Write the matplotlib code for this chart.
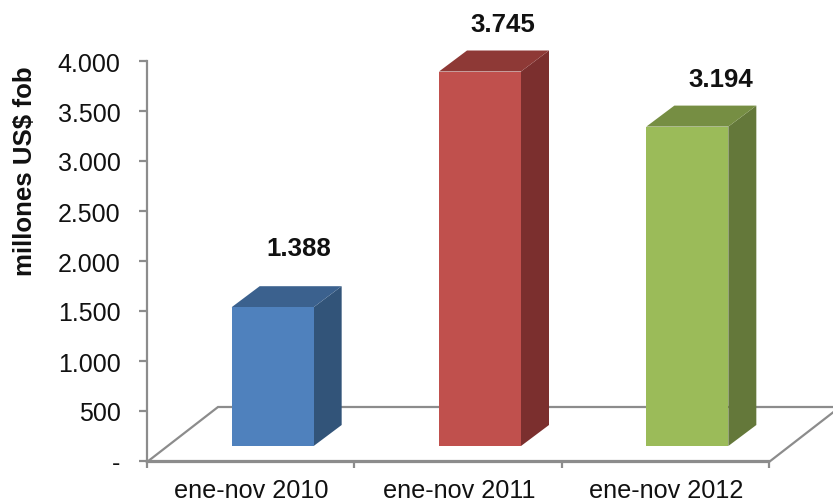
import matplotlib
matplotlib.use("Agg")
import matplotlib.pyplot as plt

plt.rcParams['font.family'] = ['Liberation Sans', 'DejaVu Sans']

categories = ['ene-nov 2010', 'ene-nov 2011', 'ene-nov 2012']
values = [1388, 3745, 3194]
value_labels = ['1.388', '3.745', '3.194']
y_ticks = [0, 500, 1000, 1500, 2000, 2500, 3000, 3500, 4000]
y_labels = ['-', '500', '1.000', '1.500', '2.000', '2.500', '3.000', '3.500', '4.000']

front_colors = ['#4f81bd', '#c0504d', '#9bbb59']
side_colors = ['#325479', '#7b2f2e', '#64783a']
top_colors = ['#3b618e', '#8e3936', '#768e43']

grey = '#8c8c8c'
W, H = 833, 502

# axes sits exactly on the plot box, the fake 3d stuff is drawn outside it
fig = plt.figure(figsize=(W / 100, H / 100), dpi=100)
ax = fig.add_axes([147 / W, (H - 462) / H, 622 / W, 400 / H])
ax.set_xlim(0, 3)
ax.set_ylim(0, 4000)

px_x = 3 / 622.
px_y = 10.

# floor
floor_dx = 71 * px_x
floor_dy = 54 * px_y
ax.plot([0, floor_dx, 3 + floor_dx, 3, 0], [-10, floor_dy, floor_dy, -10, -10],
        color=grey, lw=1.6, clip_on=False, zorder=1, solid_joinstyle='miter')

# bars
bar_w = 82 * px_x
bar_shift = 22 * px_x
base = 150
dx = 28 * px_x
dy = 21 * px_y
label_dx = [26, 23, 33]
label_dy = [59, 48, 48]

for i, v in enumerate(values):
    xc = i + 0.5 + bar_shift
    x0 = xc - bar_w / 2
    x1 = x0 + bar_w
    top = base + v
    ax.fill([x1, x1 + dx, x1 + dx, x1], [base, base + dy, top + dy, top],
            color=side_colors[i], lw=0, clip_on=False, zorder=3)
    ax.fill([x0, x1, x1 + dx, x0 + dx], [top, top, top + dy, top + dy],
            color=top_colors[i], lw=0, clip_on=False, zorder=3)
    ax.fill([x0, x1, x1, x0], [base, base, top, top],
            color=front_colors[i], lw=0, clip_on=False, zorder=4)
    ax.text(xc + label_dx[i] * px_x, top + label_dy[i] * px_y, value_labels[i],
            ha='center', va='center', fontsize=18.6, fontweight='bold',
            color='#111111', clip_on=False)

for s in ['top', 'right']:
    ax.spines[s].set_visible(False)
for s in ['left', 'bottom']:
    ax.spines[s].set_color(grey)
    ax.spines[s].set_linewidth(1.6)
    ax.spines[s].set_zorder(2)

ax.set_yticks(y_ticks)
ax.set_yticklabels(y_labels, fontsize=18, color='#111111')
ax.tick_params(axis='y', length=6, width=1.6, color=grey, pad=13)

# ticks between categories, labels centred under them
ax.set_xticks([0, 1, 2, 3])
ax.set_xticklabels([])
ax.tick_params(axis='x', length=5, width=1.6, color=grey)
for i, c in enumerate(categories):
    ax.text(i + 0.5 + 1 * px_x, -292, c, ha='center', va='center', fontsize=18.2,
            color='#111111', clip_on=False)

ax.set_ylabel('millones US$ fob', fontsize=18.6, fontweight='bold', color='#111111')
ax.yaxis.set_label_coords((37 - 147) / 622., (462 - 171) / 400.)

plt.savefig('out.png', dpi=100)
plt.close()
